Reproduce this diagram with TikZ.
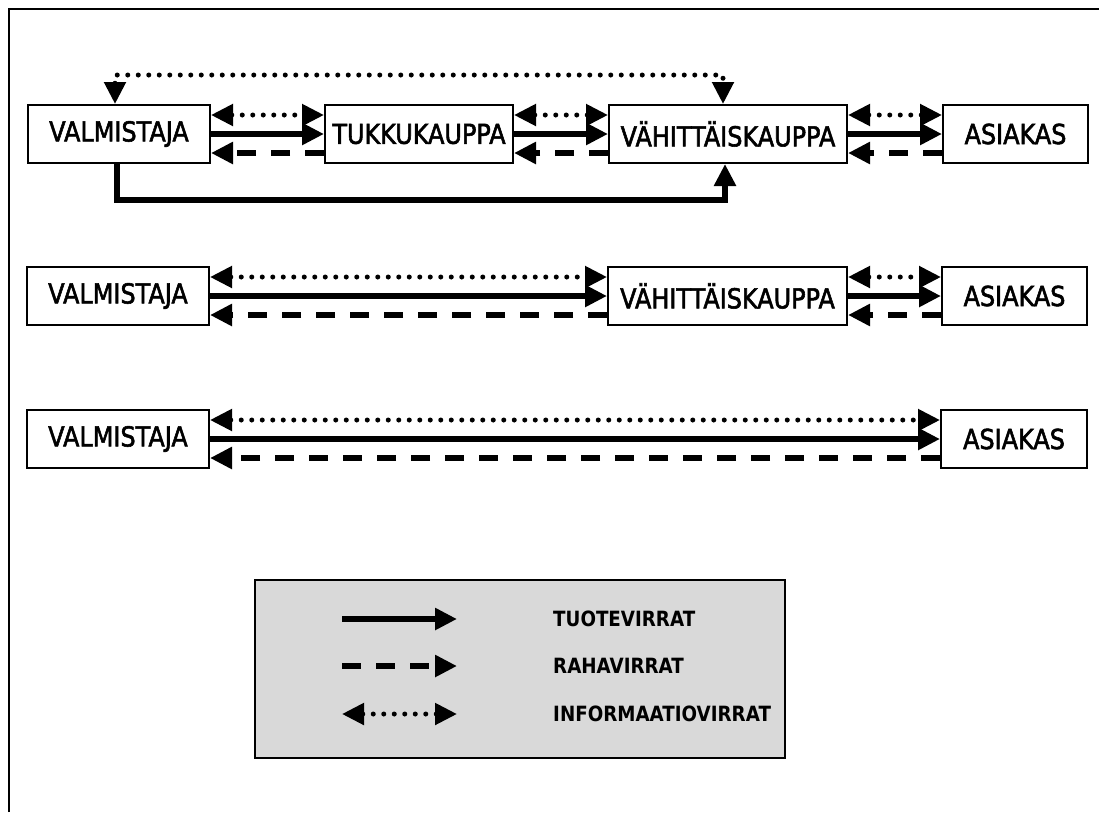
\documentclass[tikz,border=0pt]{standalone}
\usepackage{fontspec}
\setmainfont{DejaVu Sans}[FakeStretch=0.87]
\newfontfamily\boxfont{DejaVu Sans}[FakeStretch=0.87,FakeBold=2]
\usetikzlibrary{arrows.meta}
\tikzset{
  x=1pt, y=-1pt,
  >={Triangle[length=22pt,width=21pt]},
  flowbox/.style={draw, line width=2pt, minimum height=58pt, inner sep=0pt,
                  font=\boxfont\fontsize{27.5}{31}\selectfont},
  product/.style={line width=6pt},
  money/.style={line width=6pt, dash pattern=on 19pt off 15pt},
  info/.style={line width=5pt, line cap=round, dash pattern=on 0pt off 10.5pt},
  legtext/.style={anchor=west, inner sep=0pt, font=\fontsize{21}{25}\selectfont\bfseries},
}
\begin{document}
\begin{tikzpicture}
\useasboundingbox (0,0) rectangle (1099,812);
% frame
\draw[line width=2.5pt] (9,812) -- (9,9) -- (1099,9);

% row 1
\node[flowbox, minimum width=182pt] (v1) at (119,134) {VALMISTAJA};
\node[flowbox, minimum width=188pt] (t1) at (419,134) {TUKKUKAUPPA};
\node[flowbox, minimum width=238pt] (h1) at (728,134) {VÄHITTÄISKAUPPA};
\node[flowbox, minimum width=145pt] (a1) at (1015.5,134) {ASIAKAS};

\foreach \p/\q in {v1/t1, t1/h1, h1/a1}{
  \draw[info,<->] ([yshift=19pt]\p.east) -- ([yshift=19pt]\q.west);
  \draw[product,->] (\p.east) -- (\q.west);
  \draw[money,->] ([yshift=-19pt]\q.west) -- ([yshift=-19pt]\p.east);
}
\coordinate (topline) at (0,75);
\coordinate (botline) at (0,200);
\coordinate (p1) at ([xshift=-4pt]v1.north);
\coordinate (p2) at ([xshift=-5pt]h1.north);
\draw[info,<->] (p1) -- (p1 |- topline) -- (p2 |- topline) -- (p2);
\coordinate (q1) at ([xshift=-2pt]v1.south);
\coordinate (q2) at ([xshift=-3pt]h1.south);
\draw[product,->] (q1) -- (q1 |- botline) -- (q2 |- botline) -- (q2);

% row 2
\node[flowbox, minimum width=182pt] (v2) at (118,296) {VALMISTAJA};
\node[flowbox, minimum width=239pt] (h2) at (727.5,296) {VÄHITTÄISKAUPPA};
\node[flowbox, minimum width=145pt] (a2) at (1014.5,296) {ASIAKAS};
\foreach \p/\q in {v2/h2, h2/a2}{
  \draw[info,<->] ([yshift=19pt]\p.east) -- ([yshift=19pt]\q.west);
  \draw[product,->] (\p.east) -- (\q.west);
  \draw[money,->] ([yshift=-19pt]\q.west) -- ([yshift=-19pt]\p.east);
}

% row 3
\node[flowbox, minimum width=182pt] (v3) at (118,439) {VALMISTAJA};
\node[flowbox, minimum width=146pt] (a3) at (1014,439) {ASIAKAS};
\draw[info,<->] ([yshift=19pt]v3.east) -- ([yshift=19pt]a3.west);
\draw[product,->] (v3.east) -- (a3.west);
\draw[money,->] ([yshift=-19pt]a3.west) -- ([yshift=-19pt]v3.east);

% legend
\node[draw, line width=2pt, fill=black!15, minimum width=530pt, minimum height=178pt,
      inner sep=0pt] (legend) at (520,669) {};
\coordinate (l1a) at (342,619); \coordinate (l1b) at (457,619);
\coordinate (l2a) at (342,666); \coordinate (l2b) at (457,666);
\coordinate (l3a) at (342,714); \coordinate (l3b) at (457,714);
\draw[product,->] (l1a) -- (l1b);
\draw[money,->] (l2a) -- (l2b);
\draw[info,<->] (l3a) -- (l3b);
\node[legtext] (lt1) at (553,619) {TUOTEVIRRAT};
\node[legtext] (lt2) at (553,666) {RAHAVIRRAT};
\node[legtext] (lt3) at (553,714) {INFORMAATIOVIRRAT};
\end{tikzpicture}
\end{document}
